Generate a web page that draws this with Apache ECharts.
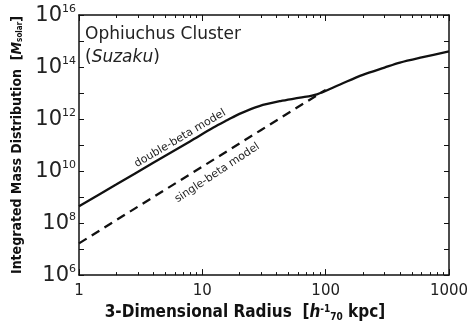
<!DOCTYPE html>
<html>
<head>
<meta charset="utf-8">
<script src="https://cdn.jsdelivr.net/npm/echarts@6/dist/echarts.min.js"></script>
<style>html,body{margin:0;padding:0;background:#fff;}#c{width:473px;height:327px;}</style>
</head>
<body>
<div id="c"></div>
<script>
// ---- data ----
const radiusDouble = [1, 2, 4, 8, 12.3, 16, 20, 29, 43, 62, 85, 131, 200, 300, 400, 600, 1000];
const massDouble   = [4.47e8, 3.02e9, 2.09e10, 1.41e11, 4.68e11, 9.12e11, 1.58e12, 3.16e12, 4.9e12, 6.61e12, 8.91e12, 2.14e13, 5.0e13, 9.5e13, 1.48e14, 2.34e14, 3.98e14];
const radiusSingle = [1, 3, 10, 30, 60, 100];
const massSingle   = [1.66e7, 4.27e8, 1.48e10, 3.8e11, 2.95e12, 1.32e13];
const xMajorTicks = [1, 10, 100, 1000];
const xMinorTicks = [2,3,4,5,6,7,8,9,20,30,40,50,60,70,80,90,200,300,400,500,600,700,800,900];
const yMajorTicks = [1e6,1e7,1e8,1e9,1e10,1e11,1e12,1e13,1e14,1e15,1e16];
const yLabelTicks = [1e6,1e8,1e10,1e12,1e14,1e16];
const seriesNames = ['double-beta model', 'single-beta model'];

const FONT = 'DejaVu Sans';
const FONT_C = '"DejaVu Sans Condensed", "DejaVu Sans"';
const chart = echarts.init(document.getElementById('c'), null, {renderer: 'canvas'});

function xAx(pos, ticks, len, showLine, showLabel) {
  return {
    type: 'log', logBase: 10, min: 1, max: 1000, position: pos,
    axisLine: {show: showLine, onZero: false, lineStyle: {color: '#111', width: 1.5}},
    axisTick: {show: true, inside: true, length: len, customValues: ticks, lineStyle: {color: '#111', width: 1}},
    axisLabel: {show: showLabel, customValues: xMajorTicks, formatter: v => String(v),
                fontFamily: FONT, fontSize: 15, color: '#222', margin: 9},
    splitLine: {show: false}, minorTick: {show: false}
  };
}
function yAx(pos, showLabel) {
  return {
    type: 'log', logBase: 10, min: 1e6, max: 1e16, position: pos,
    axisLine: {show: true, onZero: false, lineStyle: {color: '#111', width: 1.5}},
    axisTick: {show: true, inside: true, length: 5, customValues: yMajorTicks, lineStyle: {color: '#111', width: 1}},
    axisLabel: {
      show: showLabel, customValues: yLabelTicks, margin: 3,
      formatter: v => '{b|10}{s|' + Math.round(Math.log10(v)) + '}',
      rich: {
        b: {fontFamily: FONT, fontSize: 21, color: '#222', lineHeight: 22, verticalAlign: 'bottom'},
        s: {fontFamily: FONT, fontSize: 11, color: '#222', lineHeight: 12, verticalAlign: 'top'}
      }
    },
    splitLine: {show: false}
  };
}

const xAxes = [xAx('bottom', xMajorTicks, 6, true, true), xAx('bottom', xMinorTicks, 3, false, false),
               xAx('top', xMajorTicks, 6, true, false), xAx('top', xMinorTicks, 3, false, false)];
xAxes[0].name = '3-Dimensional Radius  [{i|h}{sup|-1}{sub|70} kpc]';
xAxes[0].nameLocation = 'middle';
xAxes[0].nameGap = 26;
xAxes[0].nameTextStyle = {
  fontFamily: FONT_C, fontWeight: 'bold', fontSize: 17, color: '#111', padding: [0, 38, 0, 0],
  rich: {
    i: {fontFamily: FONT_C, fontWeight: 'bold', fontStyle: 'italic', fontSize: 17, color: '#111'},
    sup: {fontFamily: FONT_C, fontWeight: 'bold', fontSize: 10, color: '#111', verticalAlign: 'top', padding: [0,0,8,0]},
    sub: {fontFamily: FONT_C, fontWeight: 'bold', fontSize: 10, color: '#111', padding: [8,0,0,0]}
  }
};
const yAxes = [yAx('left', true), yAx('right', false)];
yAxes[0].name = 'Integrated Mass Distribution  [{i|M}{sub|solar}]';
yAxes[0].nameLocation = 'middle';
yAxes[0].nameRotate = 90;
yAxes[0].nameGap = 50;
yAxes[0].nameTextStyle = {
  fontFamily: FONT_C, fontWeight: 'bold', fontSize: 14, color: '#111',
  rich: {
    i: {fontFamily: FONT_C, fontWeight: 'bold', fontStyle: 'italic', fontSize: 14, color: '#111'},
    sub: {fontFamily: FONT_C, fontWeight: 'bold', fontSize: 8, color: '#111', padding: [6,0,0,0]}
  }
};

chart.setOption({
  animation: false,
  backgroundColor: '#fff',
  grid: {left: 79, right: 24, top: 15, bottom: 50, containLabel: false},
  xAxis: xAxes,
  yAxis: yAxes,
  series: [
    {name: seriesNames[0], type: 'line', xAxisIndex: 0, yAxisIndex: 0, smooth: 0.3, showSymbol: false,
     lineStyle: {color: '#111', width: 2.3}, data: radiusDouble.map((r, i) => [r, massDouble[i]])},
    {name: seriesNames[1], type: 'line', xAxisIndex: 0, yAxisIndex: 0, smooth: false, showSymbol: false,
     lineStyle: {color: '#111', width: 2.3, type: [9, 6]}, data: radiusSingle.map((r, i) => [r, massSingle[i]])}
  ]
});

// annotations anchored to data coordinates
const pDouble = chart.convertToPixel({xAxisIndex: 0, yAxisIndex: 0}, [6.6, 1.8e11]);
const pSingle = chart.convertToPixel({xAxisIndex: 0, yAxisIndex: 0}, [13.2, 8.5e9]);
const pCorner = chart.convertToPixel({xAxisIndex: 0, yAxisIndex: 0}, [1, 1e16]);
chart.setOption({
  graphic: [
    {type: 'text', x: pCorner[0] + 6, y: pCorner[1] + 11,
     style: {text: 'Ophiuchus Cluster', font: '17px ' + FONT, fill: '#222'}},
    {type: 'text', x: pCorner[0] + 6, y: pCorner[1] + 34,
     style: {text: '({i|Suzaku})', font: '17px ' + FONT, fill: '#222',
             rich: {i: {fontFamily: FONT, fontSize: 17, fontStyle: 'italic', fill: '#222'}}}},
    {type: 'text', x: pDouble[0], y: pDouble[1], rotation: 30.5 * Math.PI / 180,
     style: {text: seriesNames[0], font: '11px ' + FONT, fill: '#222', align: 'center', verticalAlign: 'middle'}},
    {type: 'text', x: pSingle[0], y: pSingle[1], rotation: 33.5 * Math.PI / 180,
     style: {text: seriesNames[1], font: '11px ' + FONT, fill: '#222', align: 'center', verticalAlign: 'middle'}}
  ]
});
</script>
</body>
</html>
